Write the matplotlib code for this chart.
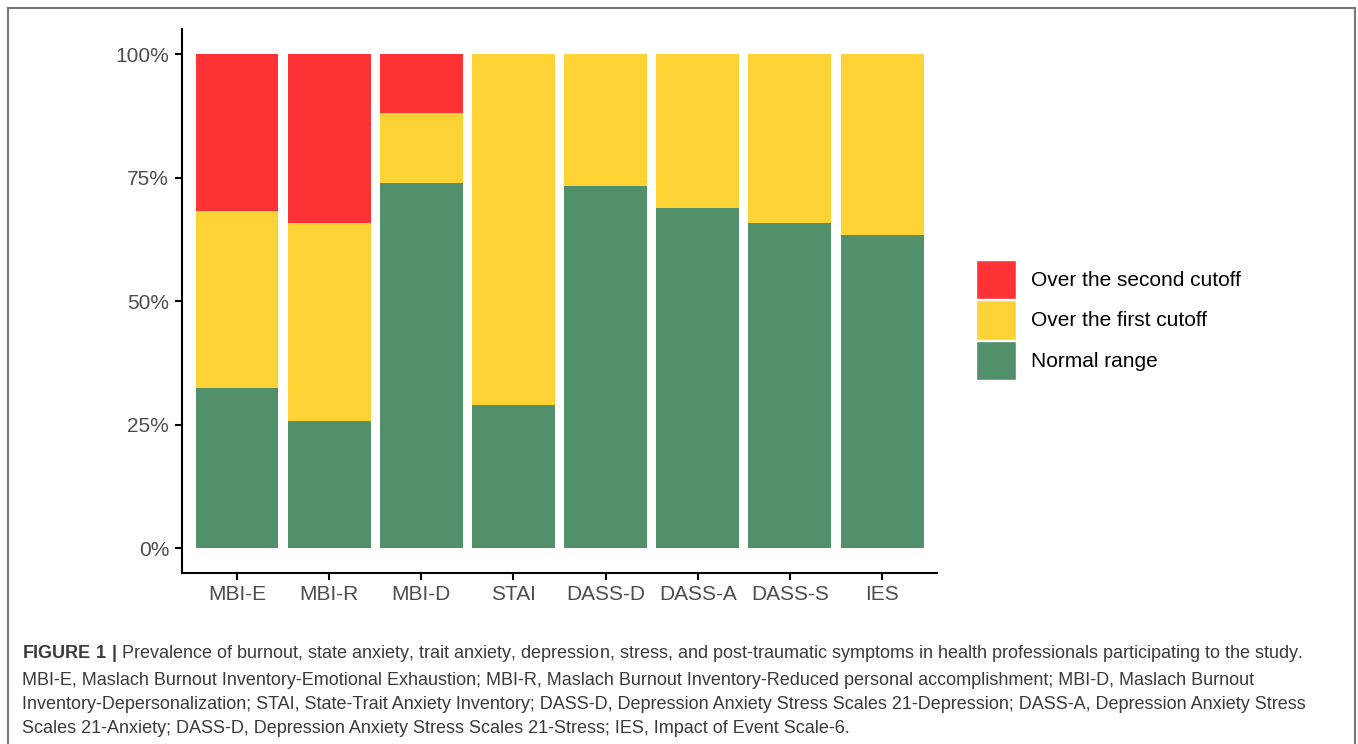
import matplotlib.pyplot as plt
import numpy as np
from matplotlib.lines import Line2D
from matplotlib.patches import Patch

# shares (%)
categories = ["MBI-E", "MBI-R", "MBI-D", "STAI", "DASS-D", "DASS-A", "DASS-S", "IES"]
normal = [32.4, 25.7, 73.9, 28.9, 73.3, 68.8, 65.8, 63.4]
first_cutoff = [35.8, 40.1, 14.2, 71.1, 26.7, 31.2, 34.2, 36.6]
second_cutoff = [31.8, 34.2, 11.9, 0.0, 0.0, 0.0, 0.0, 0.0]

labels = ["Over the second cutoff", "Over the first cutoff", "Normal range"]
colors = ["#FF3336", "#FDD235", "#528F6B"]

caption = (
    r"$\bf{FIGURE\ 1\ |}$ Prevalence of burnout, state anxiety, trait anxiety, depression, stress, and post-traumatic symptoms in health professionals participating to the study." "\n"
    "MBI-E, Maslach Burnout Inventory-Emotional Exhaustion; MBI-R, Maslach Burnout Inventory-Reduced personal accomplishment; MBI-D, Maslach Burnout\n"
    "Inventory-Depersonalization; STAI, State-Trait Anxiety Inventory; DASS-D, Depression Anxiety Stress Scales 21-Depression; DASS-A, Depression Anxiety Stress\n"
    "Scales 21-Anxiety; DASS-D, Depression Anxiety Stress Scales 21-Stress; IES, Impact of Event Scale-6."
)

plt.rcParams["font.family"] = ["Liberation Sans", "DejaVu Sans"]
plt.rcParams["mathtext.fontset"] = "custom"
plt.rcParams["mathtext.rm"] = "Liberation Sans"
plt.rcParams["mathtext.bf"] = "Liberation Sans:bold"

fig = plt.figure(figsize=(13.58, 7.44), dpi=100)
ax = fig.add_axes([0.1338, 0.2302, 0.5565, 0.7304])

x = np.arange(len(categories))
n = np.array(normal)
f = np.array(first_cutoff)
s = np.array(second_cutoff)
ax.bar(x, n, width=0.9, color=colors[2])
ax.bar(x, f, width=0.9, bottom=n, color=colors[1])
ax.bar(x, s, width=0.9, bottom=n + f, color=colors[0])

ax.set_xlim(-0.6, len(categories) - 0.4)
ax.set_ylim(-5, 105)
ax.set_xticks(x)
ax.set_xticklabels(categories)
ax.set_yticks([0, 25, 50, 75, 100])
ax.set_yticklabels(["0%", "25%", "50%", "75%", "100%"])
for sp in ["top", "right"]:
    ax.spines[sp].set_visible(False)
for sp in ["left", "bottom"]:
    ax.spines[sp].set_linewidth(1.5)
ax.tick_params(axis="both", length=5, width=1.5, labelsize=15,
               labelcolor="#4d4d4d", pad=4)

handles = [Patch(facecolor=c, edgecolor="white", linewidth=1) for c in colors]
fig.legend(handles, labels, loc="center left", bbox_to_anchor=(0.719, 0.570),
           frameon=False, fontsize=15, handlelength=1.9, handleheight=2.53,
           handletextpad=0.7, labelspacing=0.05, borderaxespad=0, borderpad=0)

fig.text(0.0162, 0.1355, caption, fontsize=13.0, color="#3a3a3a", va="top",
         ha="left", linespacing=1.57)

# outer frame of the figure panel
frame_kw = dict(color="#777777", linewidth=1.5, transform=fig.transFigure)
fig.add_artist(Line2D([8 / 1358, 8 / 1358], [0, 1 - 8 / 744], **frame_kw))
fig.add_artist(Line2D([8 / 1358, 1355 / 1358], [1 - 8 / 744, 1 - 8 / 744], **frame_kw))
fig.add_artist(Line2D([1355 / 1358, 1355 / 1358], [0, 1 - 8 / 744], **frame_kw))

fig.savefig("out.png", dpi=100)
